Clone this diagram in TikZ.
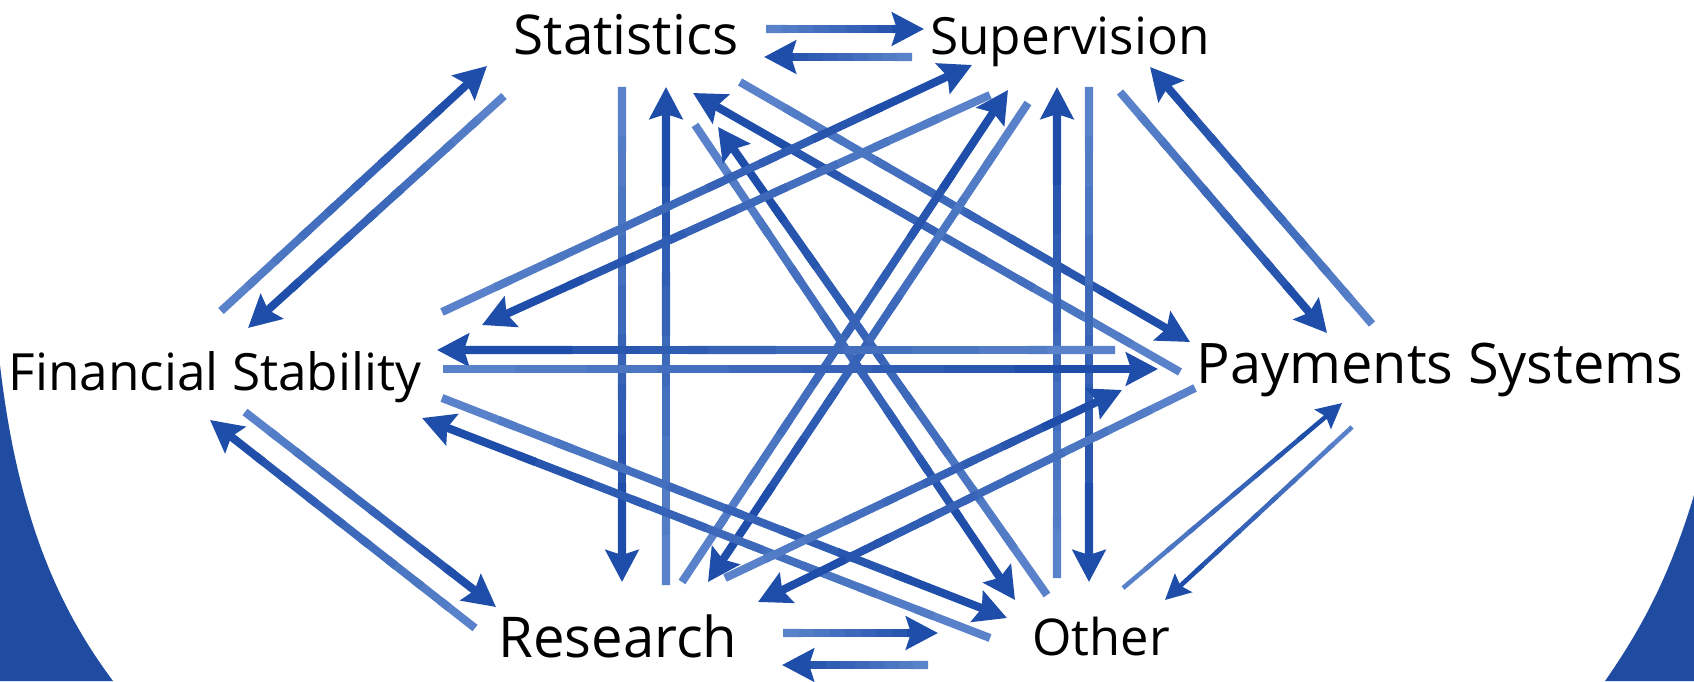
\documentclass[tikz,border=0pt]{standalone}
\usepackage{fontspec}
\setmainfont{Open Sans}
\usepackage{tikz}
\usetikzlibrary{calc, arrows.meta}
\definecolor{myblue}{RGB}{31,76,160}
\definecolor{mydark}{RGB}{30,78,170}
\definecolor{mylight}{RGB}{90,130,202}

\tikzset{
    lbl/.style={inner sep=0pt, text height=3.6mm, text depth=0pt, font=\fontsize{#1}{20}\selectfont},
    flowline/.style={line width=2.3pt, -{Stealth[length=3.2mm, width=3.3mm, inset=0.5mm]}},
    thinflow/.style={line width=1.3pt, -{Stealth[length=2.5mm, width=2.5mm, inset=0.4mm]}}
}

% shaded arrow: light at the tail, dark at the head
\newcommand{\flow}[3][]{%
    \coordinate (f0) at #2;
    \coordinate (f1) at #3;
    \foreach \k in {0,...,7}{%
        \pgfmathsetmacro{\pa}{\k/10}%
        \pgfmathsetmacro{\pb}{(\k+1.3)/10}%
        \pgfmathtruncatemacro{\mix}{\k*12}%
        \draw[flowline, #1, -, mydark!\mix!mylight] ($(f0)!\pa!(f1)$) -- ($(f0)!\pb!(f1)$);
    }
    \draw[flowline, #1, mydark] ($(f0)!0.8!(f1)$) -- (f1);
}

\begin{document}
\begin{tikzpicture}[x=0.1mm, y=-0.1mm]
\useasboundingbox (0,0) rectangle (1694,681);
\fill[white] (0,0) rectangle (1694,681);
\fill[myblue] (0,365) .. controls (18,520) and (60,610) .. (113,681) -- (0,681) -- cycle;
\fill[myblue] (1694,495) .. controls (1670,575) and (1642,628) .. (1605,681) -- (1694,681) -- cycle;

\node[lbl=15.6] (stat) at (626,37) {Statistics};
\node[lbl=14.6] (sup) at (1070,37) {Supervision};
\node[lbl=14.6] (fs) at (215,372) {Financial Stability};
\node[lbl=15.9] (pay) at (1440,365) {Payments Systems};
\node[lbl=16] (res) at (618,639) {Research};
\node[lbl=14.4] (oth) at (1101,637) {Other};

% Statistics -- Supervision
\flow{($(stat)+(140,-8)$)}{($(sup)+(-146,-8)$)}
\flow{($(sup)+(-158,20)$)}{($(stat)+(138,20)$)}
% Statistics -- Financial Stability
\flow{($(fs)+(6,-61)$)}{($(stat)+(-139,29)$)}
\flow{($(stat)+(-122,59)$)}{($(fs)+(33,-44)$)}
% Statistics -- Research
\flow{($(stat)+(-4,50)$)}{($(res)+(4,-57)$)}
\flow{($(res)+(48,-54)$)}{($(stat)+(40,50)$)}
% Statistics -- Payments Systems
\flow{($(stat)+(114,45)$)}{($(pay)+(-250,-23)$)}
\flow{($(pay)+(-260,7)$)}{($(stat)+(67,56)$)}
% Statistics -- Other
\flow{($(stat)+(69,88)$)}{($(oth)+(-86,-37)$)}
\flow{($(oth)+(-54,-42)$)}{($(stat)+(92,90)$)}
% Supervision -- Financial Stability
\flow{($(fs)+(227,-60)$)}{($(sup)+(-98,28)$)}
\flow{($(sup)+(-80,58)$)}{($(fs)+(267,-47)$)}
% Supervision -- Research
\flow{($(res)+(64,-57)$)}{($(sup)+(-62,53)$)}
\flow{($(sup)+(-42,66)$)}{($(res)+(90,-57)$)}
% Supervision -- Payments Systems
\flow{($(sup)+(50,55)$)}{($(pay)+(-113,-32)$)}
\flow{($(pay)+(-68,-41)$)}{($(sup)+(80,30)$)}
% Supervision -- Other
\flow{($(oth)+(-44,-59)$)}{($(sup)+(-13,50)$)}
\flow{($(sup)+(19,50)$)}{($(oth)+(-12,-55)$)}
% Financial Stability -- Payments Systems
\flow{($(pay)+(-325,-15)$)}{($(fs)+(222,-22)$)}
\flow{($(fs)+(228,-3)$)}{($(pay)+(-282,4)$)}
% Financial Stability -- Research
\flow{($(res)+(-143,-11)$)}{($(fs)+(-5,48)$)}
\flow{($(fs)+(30,40)$)}{($(res)+(-122,-32)$)}
% Financial Stability -- Other
\flow{($(fs)+(227,26)$)}{($(oth)+(-94,-19)$)}
\flow{($(oth)+(-111,1)$)}{($(fs)+(207,46)$)}
% Research -- Payments Systems
\flow{($(res)+(107,-61)$)}{($(pay)+(-318,25)$)}
\flow{($(pay)+(-245,23)$)}{($(res)+(140,-37)$)}
% Research -- Other
\flow{($(res)+(165,-6)$)}{($(oth)+(-163,-4)$)}
\flow{($(oth)+(-173,28)$)}{($(res)+(164,26)$)}
% Payments Systems -- Other
\flow[thinflow]{($(oth)+(22,-49)$)}{($(pay)+(-98,38)$)}
\flow[thinflow]{($(pay)+(-88,62)$)}{($(oth)+(64,-37)$)}
\end{tikzpicture}
\end{document}
